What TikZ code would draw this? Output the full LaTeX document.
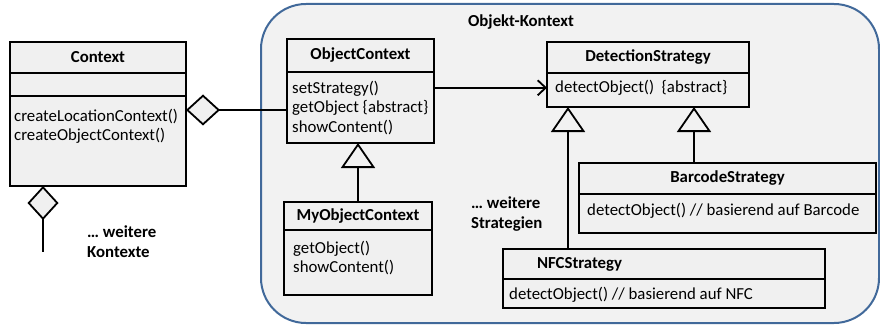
\documentclass[tikz,border=0pt]{standalone}
\usepackage{fontspec}
\setmainfont{Carlito}
\usepackage{tikz}
\usetikzlibrary{arrows.meta,positioning}
\usepackage{xcolor}
\definecolor{boxgrau}{HTML}{F0F0F0}
\definecolor{bereichgrau}{HTML}{F2F2F2}
\definecolor{kontextblau}{HTML}{41699A}

\begin{document}
\begin{tikzpicture}[
  x=1pt, y=-1pt,
  every node/.style={font=\fontsize{16.8}{19.5}\selectfont},
  kopf/.style={rectangle, draw, line width=1.8pt, fill=boxgrau, outer sep=0pt, inner sep=0pt, anchor=north west, font=\fontsize{16.8}{19.5}\selectfont\bfseries},
  fach/.style={rectangle, draw, line width=1.8pt, fill=boxgrau, outer sep=0pt, inner sep=0pt},
  methoden/.style={align=left, inner sep=0pt, anchor=north west},
  hinweis/.style={align=left, inner sep=0pt, anchor=north west, font=\fontsize{16.8}{19.5}\selectfont\bfseries},
  bereich/.style={rectangle, draw=kontextblau, line width=2pt, fill=bereichgrau, rounded corners=45pt, outer sep=0pt, anchor=north west},
  erbt/.style={line width=1.8pt, -{Triangle[open, length=25pt, width=34pt]}},
  aggr/.style={line width=1.8pt, {Diamond[fill=boxgrau, length=34pt, width=31pt]}-},
  assoz/.style={line width=1.8pt, -{Straight Barb[length=8pt, width=15pt]}}
]
\useasboundingbox (0,0) rectangle (880,326);

% Bereich Objekt-Kontext
\node[bereich, minimum width=618pt, minimum height=319pt] (OK) at (261,4) {};
\node[font=\fontsize{16.8}{19.5}\selectfont\bfseries] (OKt) at (521,22) {Objekt-Kontext};

% Context
\node[kopf, minimum width=176pt, minimum height=31pt] (Ck) at (10,42) {Context};
\node[fach, minimum width=176pt, minimum height=23pt, below=0pt of Ck] (Ca) {};
\node[fach, minimum width=176pt, minimum height=90pt, below=0pt of Ca] (Cb) {};
\node[methoden, below right=13pt and 4pt of Cb.north west] (Cm)
  {createLocationContext()\\createObjectContext()};

% ObjectContext
\node[kopf, minimum width=147pt, minimum height=33pt] (OCk) at (287,39) {ObjectContext};
\node[fach, minimum width=147pt, minimum height=71pt, below=0pt of OCk] (OCb) {};
\node[methoden, below right=9pt and 5pt of OCb.north west] (OCm)
  {setStrategy()\\getObject \{abstract\}\\showContent()};

% MyObjectContext
\node[kopf, minimum width=148pt, minimum height=28pt] (MOk) at (284,202) {MyObjectContext};
\node[fach, minimum width=148pt, minimum height=65pt, below=0pt of MOk] (MOb) {};
\node[methoden, below right=11pt and 9pt of MOb.north west] (MOm)
  {getObject()\\showContent()};

% DetectionStrategy
\node[kopf, minimum width=202pt, minimum height=31pt] (DSk) at (547,42) {DetectionStrategy};
\node[fach, minimum width=202pt, minimum height=34pt, below=0pt of DSk] (DSb) {};
\node[methoden, below right=7pt and 8pt of DSb.north west] (DSm)
  {detectObject()~~\{abstract\}};

% BarcodeStrategy
\node[kopf, minimum width=297pt, minimum height=31pt] (BSk) at (579,163) {BarcodeStrategy};
\node[fach, minimum width=297pt, minimum height=39pt, below=0pt of BSk] (BSb) {};
\node[methoden, below right=9pt and 8pt of BSb.north west] (BSm)
  {detectObject()~// basierend auf Barcode};

% NFCStrategy
\node[kopf, minimum width=322pt, minimum height=30pt, text width=254pt, align=left, inner xsep=34pt] (NFk) at (503,249) {NFCStrategy};
\node[fach, minimum width=322pt, minimum height=29pt, below=0pt of NFk] (NFb) {};
\node[methoden, below right=8pt and 6pt of NFb.north west] (NFm)
  {detectObject()~// basierend auf NFC};

% Hinweise
\node[hinweis] (Kweiter) at (87,226) {… weitere\\Kontexte};
\node[hinweis] (Sweiter) at (471,197) {… weitere\\Strategien};

% Aggregationen
\coordinate (Crechts) at ([yshift=-14pt]Cb.north east);
\draw[aggr] (Crechts) -- (Crechts -| OCb.west);
\coordinate (Cunten) at ([xshift=33pt]Cb.south west);
\coordinate (Cende) at (43,252);
\draw[aggr] (Cunten) -- (Cende);

% Assoziation zur Strategie
\draw[assoz] (OCb.east |- DSm) -- (DSb.west |- DSm);

% Vererbung
\draw[erbt] (MOk.north) -- (MOk.north |- OCb.south);
\coordinate (DSl) at ([xshift=21pt]DSb.south west);
\coordinate (DSr) at ([xshift=-55pt]DSb.south east);
\draw[erbt] (NFk.north -| DSl) -- (DSl);
\draw[erbt] (BSk.north -| DSr) -- (DSr);
\end{tikzpicture}
\end{document}
